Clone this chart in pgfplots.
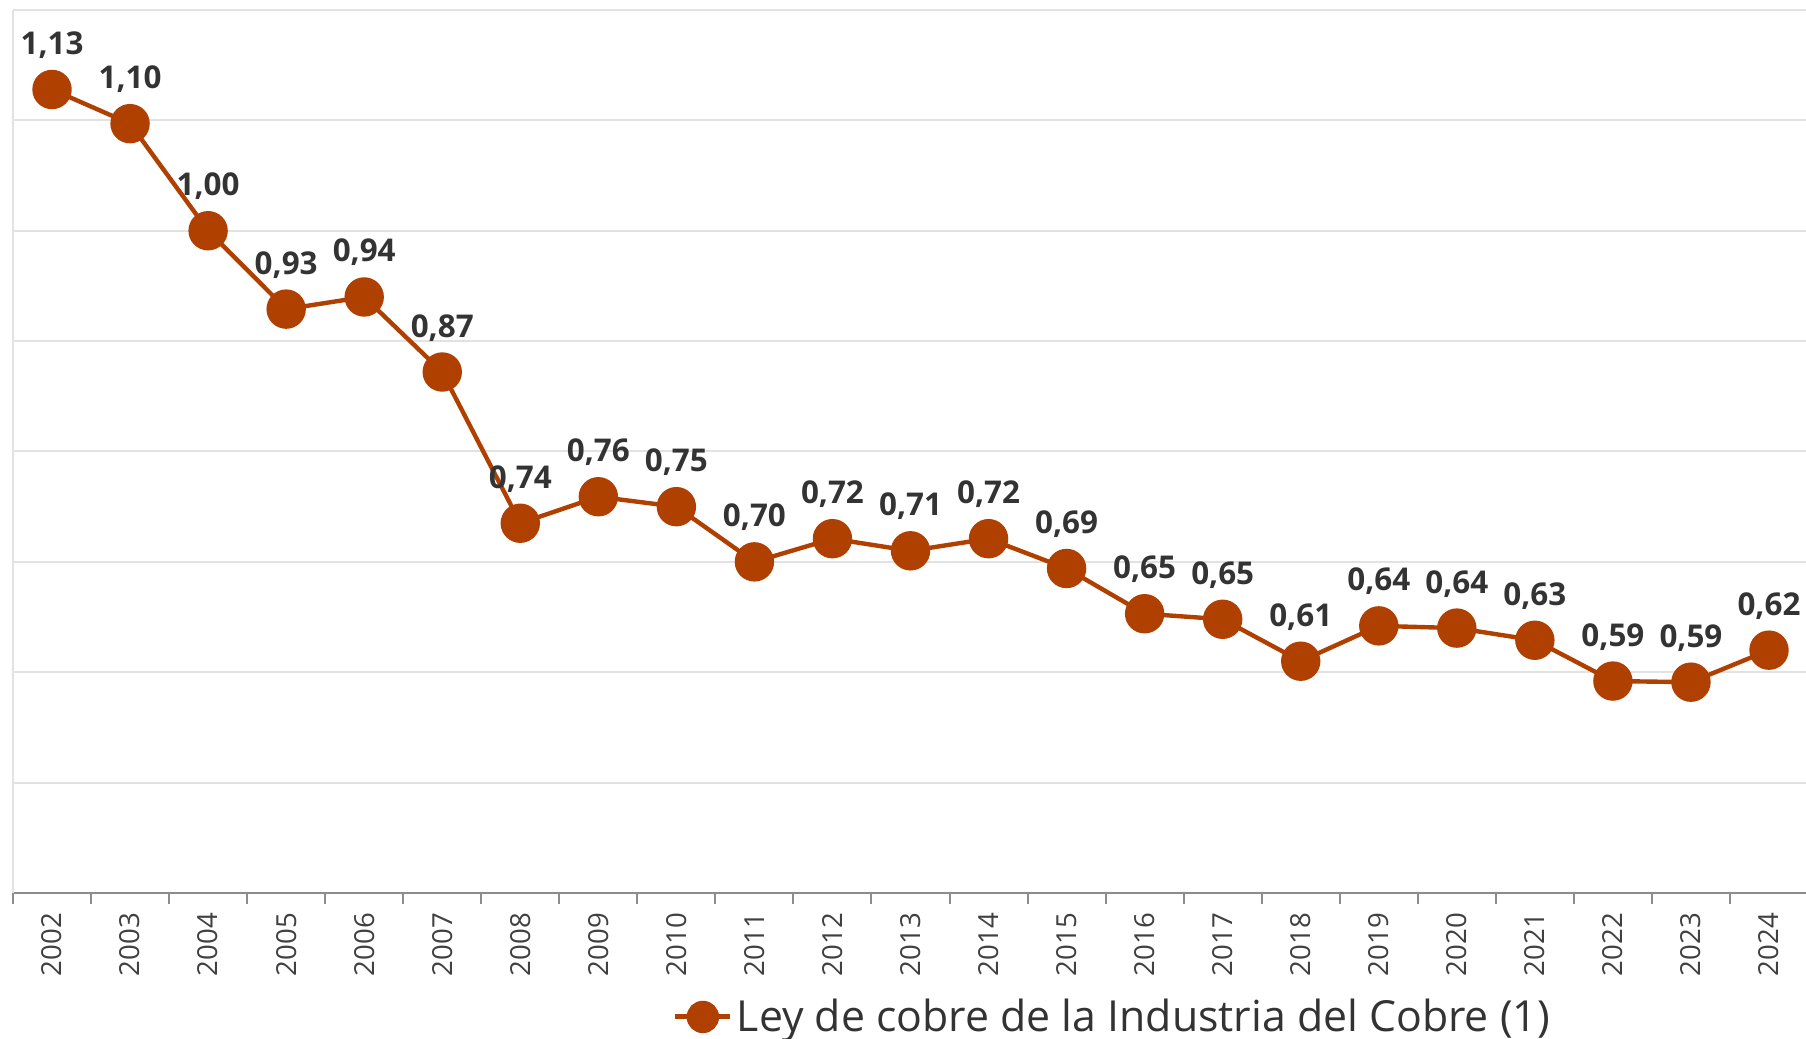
\documentclass[border=0pt]{standalone}
\usepackage{pgfplots}
\pgfplotsset{compat=1.18}
\usepackage{pgfplotstable}
\usetikzlibrary{calc}
\usepackage{fontspec}
\setmainfont{Open Sans}
\definecolor{cobre}{RGB}{176,64,0}
\definecolor{gridc}{RGB}{226,226,226}
\definecolor{axc}{RGB}{140,140,140}
\definecolor{txt}{RGB}{51,51,51}
\definecolor{ticktxt}{RGB}{64,64,64}
\pgfplotstableread{
x y lab
0 1.128 1,13
1 1.097 1,10
2 1.000 1,00
3 0.929 0,93
4 0.940 0,94
5 0.872 0,87
6 0.735 0,74
7 0.759 0,76
8 0.750 0,75
9 0.700 0,70
10 0.721 0,72
11 0.710 0,71
12 0.721 0,72
13 0.694 0,69
14 0.653 0,65
15 0.648 0,65
16 0.610 0,61
17 0.642 0,64
18 0.640 0,64
19 0.629 0,63
20 0.592 0,59
21 0.591 0,59
22 0.620 0,62
}\datatable
\begin{document}
\begin{tikzpicture}
\begin{axis}[
  scale only axis,
  width=897.5pt, height=441.5pt,
  xmin=-0.5, xmax=22.5,
  ymin=0.4, ymax=1.2,
  clip=false,
  axis x line*=bottom,
  axis y line*=left,
  x axis line style={draw=axc, line width=1.4pt, -},
  y axis line style={draw=gridc, line width=1pt, -},
  xtick={0,...,22},
  xticklabels={2002,2003,2004,2005,2006,2007,2008,2009,2010,2011,2012,2013,2014,2015,2016,2017,2018,2019,2020,2021,2022,2023,2024},
  minor xtick={-0.5,0.5,...,22.5},
  ytick={0.4,0.5,...,1.2},
  yticklabels={},
  major tick length=0pt,
  minor tick length=5.5pt,
  tick align=outside,
  minor tick style={draw=axc, line width=1pt},
  ymajorgrids,
  major grid style={draw=gridc, line width=1pt},
  xticklabel style={rotate=90, anchor=east, font=\fontsize{13.8}{16}\selectfont, text=ticktxt},
  xticklabel shift=6.5pt,
  legend style={at={(0.613,-0.1404)}, anchor=center, draw=none, fill=none,
    font=\fontsize{21.4}{25}\selectfont, text=txt, inner sep=0pt,
    nodes={inner sep=2pt}},
  legend cell align=left,
]
\addplot[color=cobre, line width=2.2pt, mark=*, mark size=8.75pt,
  mark options={fill=cobre, draw=none},
  nodes near coords, point meta=explicit symbolic,
  every node near coord/.style={anchor=base, yshift=17.5pt, font=\bfseries\fontsize{15.7}{18}\selectfont, text=txt, inner sep=0pt},
  legend image code/.code={
    \draw[cobre, line width=2.5pt] (0pt,0pt) -- (27.5pt,0pt);
    \fill[cobre] (13.75pt,0pt) circle (7pt);
  },
  ] table[x=x, y=y, meta=lab] {\datatable};
\addlegendentry{Ley de cobre de la Industria del Cobre (1)}
\coordinate (sw) at (rel axis cs:0,0);
\coordinate (ne) at (rel axis cs:1,1);
\end{axis}
\pgfresetboundingbox
\path[use as bounding box] ($(sw)+(-6.5pt,-73pt)$) rectangle ($(ne)+(-1pt,5pt)$);
\end{tikzpicture}
\end{document}
